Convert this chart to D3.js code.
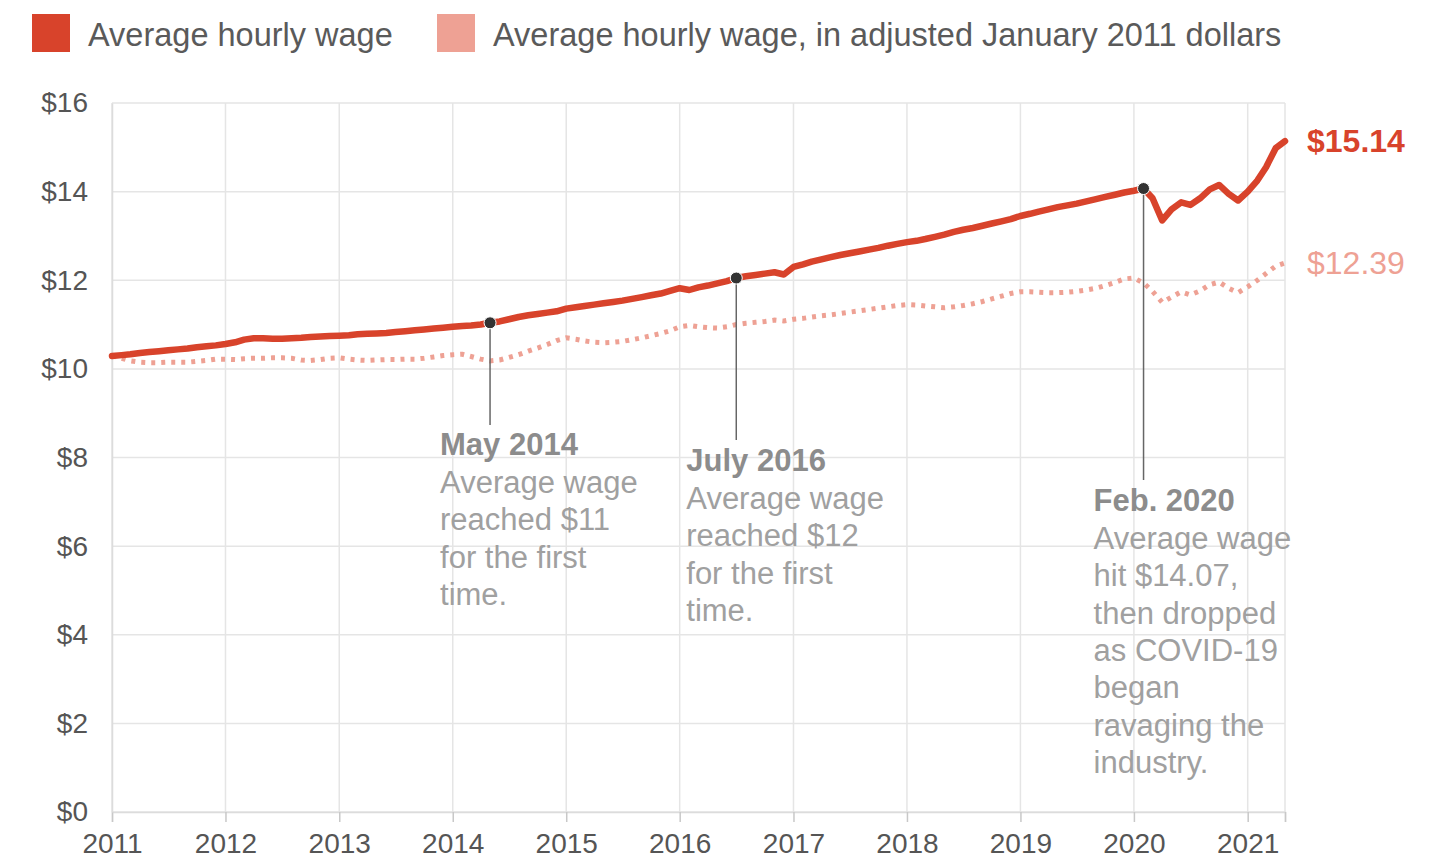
<!DOCTYPE html>
<html lang="en">
<head>
<meta charset="UTF-8">
<title>Average hourly wage</title>
<style>
  body { margin: 0; background: #fff; }
  svg { display: block; font-family: "Liberation Sans", Arial, sans-serif; }
</style>
</head>
<body>
<div class="chart"></div>
<script src="https://d3js.org/d3.v7.min.js"></script>
<script>
// monthly, Jan 2011 .. May 2021
const startMonth = new Date(2011, 0, 1);

const nominalWage = [
  10.29, 10.31, 10.33, 10.36, 10.38, 10.40, 10.42, 10.44, 10.46, 10.49, 10.51, 10.53,
  10.56, 10.60, 10.66, 10.69, 10.69, 10.68, 10.68, 10.69, 10.70, 10.72, 10.73, 10.74,
  10.75, 10.76, 10.78, 10.79, 10.80, 10.81, 10.83, 10.85, 10.87, 10.89, 10.91, 10.93,
  10.95, 10.97, 10.98, 11.00, 11.04, 11.07, 11.12, 11.17, 11.21, 11.24, 11.27, 11.30,
  11.36, 11.39, 11.42, 11.45, 11.48, 11.51, 11.54, 11.58, 11.62, 11.66, 11.70, 11.76,
  11.82, 11.78, 11.84, 11.88, 11.93, 11.98, 12.05, 12.09, 12.12, 12.15, 12.18, 12.13,
  12.30, 12.36, 12.42, 12.47, 12.52, 12.57, 12.61, 12.65, 12.69, 12.73, 12.78, 12.82,
  12.86, 12.89, 12.93, 12.98, 13.03, 13.09, 13.14, 13.18, 13.23, 13.28, 13.33, 13.38,
  13.45, 13.50, 13.55, 13.60, 13.65, 13.69, 13.73, 13.78, 13.83, 13.88, 13.93, 13.98,
  14.02, 14.07, 13.85, 13.35, 13.60, 13.76, 13.70, 13.85, 14.05, 14.15, 13.95, 13.80,
  14.00, 14.25, 14.55, 14.98, 15.14
];

const adjustedWage = [
  10.29, 10.24, 10.18, 10.15, 10.14, 10.14, 10.15, 10.15, 10.15, 10.17, 10.19, 10.22,
  10.22, 10.21, 10.23, 10.24, 10.24, 10.25, 10.25, 10.24, 10.20, 10.19, 10.21, 10.24,
  10.25, 10.22, 10.20, 10.19, 10.20, 10.21, 10.21, 10.22, 10.22, 10.24, 10.27, 10.30,
  10.32, 10.33, 10.28, 10.22, 10.18, 10.20, 10.26, 10.32, 10.40, 10.47, 10.55, 10.64,
  10.70, 10.67, 10.63, 10.60, 10.59, 10.60, 10.62, 10.66, 10.70, 10.75, 10.80, 10.86,
  10.95, 10.98, 10.95, 10.93, 10.92, 10.95, 11.00, 11.03, 11.05, 11.07, 11.10, 11.08,
  11.12, 11.14, 11.17, 11.20, 11.22, 11.25, 11.28, 11.31, 11.34, 11.37, 11.40, 11.43,
  11.45, 11.44, 11.42, 11.40, 11.38, 11.40, 11.43, 11.47, 11.52, 11.58, 11.64, 11.70,
  11.74, 11.74, 11.73, 11.72, 11.72, 11.73, 11.75, 11.78, 11.82, 11.88, 11.95, 12.03,
  12.05, 11.94, 11.75, 11.50, 11.62, 11.74, 11.67, 11.76, 11.90, 11.96, 11.82, 11.72,
  11.85, 12.00, 12.15, 12.32, 12.39
];

const seriesNames = ["Average hourly wage", "Average hourly wage, in adjusted January 2011 dollars"];
const yTicks = [0, 2, 4, 6, 8, 10, 12, 14, 16];
const xTickYears = [2011, 2012, 2013, 2014, 2015, 2016, 2017, 2018, 2019, 2020, 2021];

// annotations: month index into the series
const notes = [
  { idx: 40, title: "May 2014", lines: ["Average wage", "reached $11", "for the first", "time."], lineEnd: 425, textY: 455 },
  { idx: 66, title: "July 2016", lines: ["Average wage", "reached $12", "for the first", "time."], lineEnd: 440, textY: 471 },
  { idx: 109, title: "Feb. 2020", lines: ["Average wage", "hit $14.07,", "then dropped", "as COVID-19", "began", "ravaging the", "industry."], lineEnd: 480, textY: 511 }
];

const width = 1429, height = 860;
const plotLeft = 112, plotRight = 1285, plotTop = 103, plotBottom = 812;
const red = "#d8432b", pink = "#eea194";

const dates = nominalWage.map((d, i) => d3.timeMonth.offset(startMonth, i));

const svg = d3.select(".chart").append("svg")
  .attr("width", width)
  .attr("height", height);

const x = d3.scaleTime()
  .domain([startMonth, dates[dates.length - 1]])
  .range([plotLeft, plotRight]);

const y = d3.scaleLinear()
  .domain([0, 16])
  .range([plotBottom, plotTop]);

// grid
const grid = svg.append("g");
grid.selectAll(".hg")
  .data(yTicks)
  .join("line")
  .attr("x1", plotLeft).attr("x2", plotRight)
  .attr("y1", d => y(d)).attr("y2", d => y(d))
  .attr("stroke", "#e5e5e5").attr("stroke-width", 1.5);

const vTicks = xTickYears.map(yr => new Date(yr, 0, 1)).concat([x.domain()[1]]);
grid.selectAll(".vg")
  .data(vTicks)
  .join("line")
  .attr("x1", d => x(d)).attr("x2", d => x(d))
  .attr("y1", plotTop).attr("y2", plotBottom)
  .attr("stroke", "#e5e5e5").attr("stroke-width", 1.5);

// x axis
const xAxis = d3.axisBottom(x)
  .tickValues(vTicks)
  .tickSize(10)
  .tickFormat(d => d.getMonth() === 0 ? d3.timeFormat("%Y")(d) : "");

const xg = svg.append("g")
  .attr("transform", `translate(0,${plotBottom})`)
  .call(xAxis);
xg.select(".domain").attr("stroke", "#dcdcdc").attr("stroke-width", 1.5);
xg.selectAll(".tick line").attr("stroke", "#c8c8c8").attr("stroke-width", 1.5);
xg.selectAll(".tick text")
  .attr("dy", 0).attr("y", 41)
  .attr("font-size", 28).attr("fill", "#555")
  .attr("font-family", "Liberation Sans, Arial, sans-serif");

// y axis
const yAxis = d3.axisLeft(y)
  .tickValues(yTicks)
  .tickSize(0)
  .tickPadding(24)
  .tickFormat(d => "$" + d);

const yg = svg.append("g")
  .attr("transform", `translate(${plotLeft},0)`)
  .call(yAxis);
yg.select(".domain").attr("stroke", "#dcdcdc").attr("stroke-width", 1.5);
yg.selectAll(".tick text")
  .attr("font-size", 28).attr("fill", "#555")
  .attr("font-family", "Liberation Sans, Arial, sans-serif");

// lines
const line = d3.line()
  .x((d, i) => x(dates[i]))
  .y(d => y(d));

svg.append("path")
  .attr("d", line(adjustedWage))
  .attr("fill", "none")
  .attr("stroke", pink)
  .attr("stroke-width", 5)
  .attr("stroke-dasharray", "4,6");

svg.append("path")
  .attr("d", line(nominalWage))
  .attr("fill", "none")
  .attr("stroke", red)
  .attr("stroke-width", 6.5)
  .attr("stroke-linejoin", "round")
  .attr("stroke-linecap", "round");

// end labels
const last = nominalWage.length - 1;
svg.append("text")
  .attr("x", x(dates[last]) + 22)
  .attr("y", y(nominalWage[last]) + 11)
  .attr("font-size", 32).attr("font-weight", "bold")
  .attr("fill", red)
  .text("$" + nominalWage[last].toFixed(2));

svg.append("text")
  .attr("x", x(dates[last]) + 22)
  .attr("y", y(adjustedWage[last]) + 11)
  .attr("font-size", 32)
  .attr("fill", pink)
  .text("$" + adjustedWage[last].toFixed(2));

// annotations
const ann = svg.append("g").selectAll("g")
  .data(notes)
  .join("g");

ann.append("line")
  .attr("x1", d => x(dates[d.idx])).attr("x2", d => x(dates[d.idx]))
  .attr("y1", d => y(nominalWage[d.idx]) + 6)
  .attr("y2", d => d.lineEnd)
  .attr("stroke", "#666").attr("stroke-width", 1.5);

ann.append("circle")
  .attr("cx", d => x(dates[d.idx]))
  .attr("cy", d => y(nominalWage[d.idx]))
  .attr("r", 6)
  .attr("fill", "#333")
  .attr("stroke", "#fff").attr("stroke-width", 1);

ann.append("text")
  .attr("x", d => x(dates[d.idx]) - 50)
  .attr("y", d => d.textY)
  .attr("font-size", 31).attr("font-weight", "bold")
  .attr("fill", "#8c8c8c")
  .text(d => d.title);

ann.each(function(d) {
  d3.select(this).append("text")
    .attr("font-size", 31)
    .attr("fill", "#a0a0a0")
    .selectAll("tspan")
    .data(d.lines)
    .join("tspan")
    .attr("x", x(dates[d.idx]) - 50)
    .attr("y", (t, i) => d.textY + 38 + i * 37.3)
    .text(t => t);
});

// legend
const legend = svg.append("g");
const legendItems = [
  { name: seriesNames[0], color: red, x: 32 },
  { name: seriesNames[1], color: pink, x: 437 }
];
legend.selectAll("rect")
  .data(legendItems)
  .join("rect")
  .attr("x", d => d.x).attr("y", 14)
  .attr("width", 38).attr("height", 38)
  .attr("fill", d => d.color);
legend.selectAll("text")
  .data(legendItems)
  .join("text")
  .attr("x", d => d.x + 56).attr("y", 46)
  .attr("font-size", 32.5)
  .attr("fill", "#5a5a5a")
  .text(d => d.name);
</script>
</body>
</html>
